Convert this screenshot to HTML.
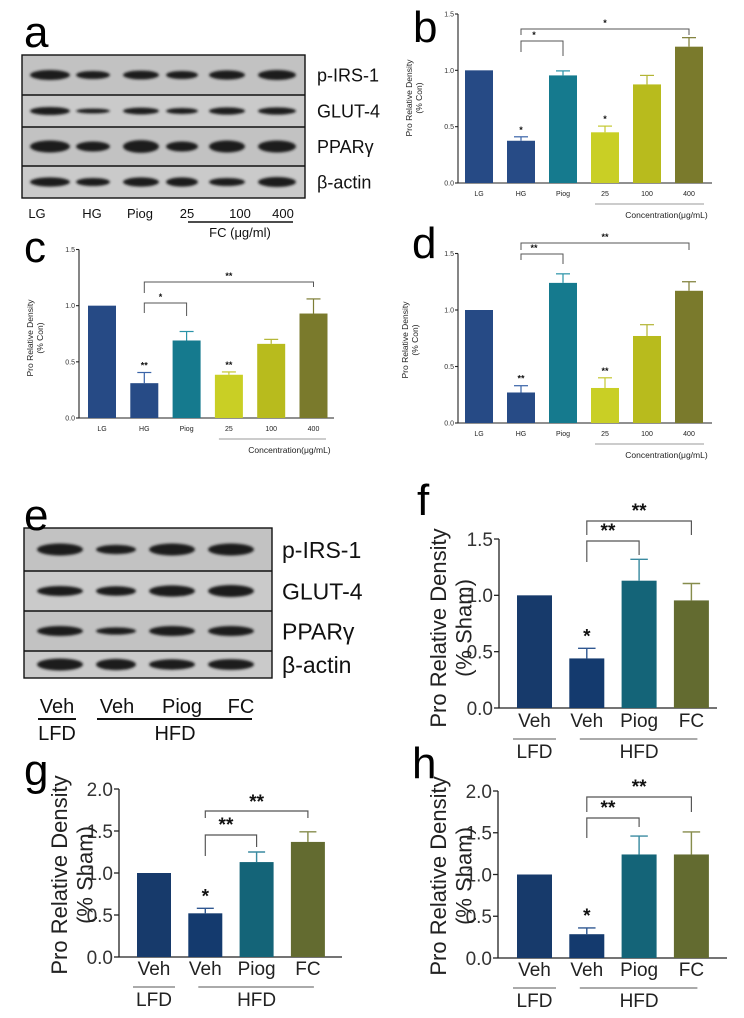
<!DOCTYPE html>
<html><head><meta charset="utf-8">
<style>
html,body{margin:0;padding:0;background:#fff;}
svg{display:block;font-family:"Liberation Sans",sans-serif;}
</style></head>
<body>
<svg id="fig" width="744" height="1018" viewBox="0 0 744 1018" xmlns="http://www.w3.org/2000/svg">
<defs>
<filter id="blur" x="-20%" y="-60%" width="140%" height="220%"><feGaussianBlur stdDeviation="1.4"/></filter>
</defs>
<g id="root"></g>
</svg>
<script>
// ---- data ----
const catsBCD = ['LG','HG','Piog','25','100','400'];
const valsB = [1.0, 0.375, 0.955, 0.45, 0.875, 1.21];
const errB  = [0, 0.035, 0.04, 0.055, 0.08, 0.08];
const starsB = ['', '*', '', '*', '', ''];
const valsC = [1.0, 0.31, 0.69, 0.385, 0.66, 0.93];
const errC  = [0, 0.095, 0.08, 0.025, 0.04, 0.13];
const starsC = ['', '**', '', '**', '', ''];
const valsD = [1.0, 0.27, 1.24, 0.31, 0.77, 1.17];
const errD  = [0, 0.06, 0.08, 0.09, 0.1, 0.08];
const starsD = ['', '**', '', '**', '', ''];
const ticksBCD = [0, 0.5, 1.0, 1.5];
const tickLabelsBCD = ['0.0','0.5','1.0','1.5'];

const catsFGH = ['Veh','Veh','Piog','FC'];
const valsF = [1.0, 0.44, 1.13, 0.955];
const errF  = [0, 0.09, 0.19, 0.15];
const valsG = [1.0, 0.52, 1.13, 1.37];
const errG  = [0, 0.06, 0.12, 0.12];
const valsH = [1.0, 0.285, 1.24, 1.24];
const errH  = [0, 0.075, 0.22, 0.27];
const starsFGH = ['', '*', '', ''];
const ticksF = [0, 0.5, 1.0, 1.5];
const tickLabelsF = ['0.0','0.5','1.0','1.5'];
const ticksGH = [0, 0.5, 1.0, 1.5, 2.0];
const tickLabelsGH = ['0.0','0.5','1.0','1.5','2.0'];

const colorsBCD = ['#264a85','#274b86','#157a8e','#c9cf25','#b8bb1d','#7a7a2c'];
const errColBCD = ['#264a85','#3a64a8','#2a93a8','#c4c832','#b3b534','#7d7d35'];
const colorsFGH = ['#173a6b','#143a6e','#146478','#636b30'];
const errColFGH = ['#173a6b','#2f5790','#3a8aa0','#868c4c'];

const NS='http://www.w3.org/2000/svg';
const root=document.getElementById('root');
function el(tag,attrs,parent,text){
  const e=document.createElementNS(NS,tag);
  for(const k in attrs) e.setAttribute(k,attrs[k]);
  if(text!==undefined) e.textContent=text;
  (parent||root).appendChild(e);
  return e;
}

function chart(c){
  const g=el('g',{});
  
  
  const max=c.ticks[c.ticks.length-1];
  const y=v=>c.y0-(v/max)*(c.y0-c.yTop);
  const xL=i=>c.firstLeft+i*c.sp;
  const xC=i=>xL(i)+c.w/2;
  const ya=el('line',{x1:c.axisX,y1:c.yTop,x2:c.axisX,y2:c.y0,stroke:'#222','stroke-width':c.lw},g);
  
  
  const xa=el('line',{x1:c.axisX,y1:c.y0,x2:c.end,y2:c.y0,stroke:'#222','stroke-width':c.lw},g);
  
  
  c.ticks.forEach((t,i)=>{
    el('line',{x1:c.axisX-c.tickLen,y1:y(t),x2:c.axisX,y2:y(t),stroke:'#222','stroke-width':c.lw},g);
    const tl=el('text',{x:c.axisX-c.tickLen-1,y:y(t)+c.tickFs*0.36,'font-size':c.tickFs,'text-anchor':'end',fill:'#333'},g,c.tickLabels[i]);
    
    
  });
  c.vals.forEach((v,i)=>{
    const b=el('rect',{x:xL(i),y:y(v),width:c.w,height:c.y0-y(v),fill:c.colors[i]},g);
    
    
    if(c.err[i]>0){
      const top=y(v+c.err[i]);
      el('line',{x1:xC(i),y1:y(v),x2:xC(i),y2:top,stroke:c.errCols[i],'stroke-width':c.lw*1.1},g);
      const cap=el('line',{x1:xC(i)-c.w*0.25,y1:top,x2:xC(i)+c.w*0.25,y2:top,stroke:c.errCols[i],'stroke-width':c.lw*1.1},g);
      
      
    }
    if(c.stars[i]){
      const s=el('text',{x:xC(i),y:y(v+c.err[i])-c.starGap,'font-size':c.starFs,'text-anchor':'middle',fill:'#111','font-weight':'bold'},g,c.stars[i]);
      
      
    }
    const cl=el('text',{x:xC(i),y:c.catY,'font-size':c.catFs,'text-anchor':'middle',fill:'#222'},g,c.cats[i]);
    
    
  });
  c.brackets.forEach(br=>{
    const x1=xC(br.from), x2=xC(br.to);
    const p=el('path',{d:`M${x1},${br.yl} L${x1},${br.y} L${x2},${br.y} L${x2},${br.yr}`,fill:'none',stroke:'#555','stroke-width':c.lw*0.9},g);
    
    
    const t=el('text',{x:(x1+x2)/2+(br.dx||0),y:br.ty,'font-size':c.starFs,'text-anchor':'middle',fill:'#111','font-weight':'bold'},g,br.label);
    
    
  });
  const tt=el('text',{transform:`translate(${c.titleX},${c.titleY}) rotate(-90)`,'font-size':c.titleFs,'text-anchor':'middle',fill:'#222'},g,'Pro Relative Density');
  
  
  const t2=el('text',{transform:`translate(${c.titleX+c.titleFs*1.15},${c.titleY}) rotate(-90)`,'font-size':c.titleFs,'text-anchor':'middle',fill:'#222'},g,c.unit);
  
  
  if(c.group==='conc'){
    el('line',{x1:xC(3)-10,y1:c.catY+8,x2:c.end-8,y2:c.catY+8,stroke:'#777','stroke-width':0.8},g);
    const ct=el('text',{x:(xC(3)+c.end)/2+8,y:c.catY+22,'font-size':8.5,'text-anchor':'middle',fill:'#222'},g,'Concentration(μg/mL)');
    
    
  } else {
    const ly=c.catY+12;
    el('line',{x1:xL(0)-4,y1:ly,x2:xL(0)+c.w+4,y2:ly,stroke:'#555','stroke-width':1},g);
    el('line',{x1:xC(1)-7,y1:ly,x2:xC(3)+6,y2:ly,stroke:'#555','stroke-width':1},g);
    const l1=el('text',{x:xC(0),y:ly+19,'font-size':19,'text-anchor':'middle',fill:'#222'},g,'LFD');
    
    
    const l2=el('text',{x:(xC(1)+xC(3))/2,y:ly+19,'font-size':19,'text-anchor':'middle',fill:'#222'},g,'HFD');
    
    
  }
}

const small={cats:catsBCD,ticks:ticksBCD,tickLabels:tickLabelsBCD,colors:colorsBCD,errCols:errColBCD,
  w:28,lw:1.1,tickLen:3,tickFs:7,catFs:7,starFs:9,starGap:4,titleFs:8.5,unit:'(% Con)',group:'conc'};
chart(Object.assign({},small,{name:'chart-b',vals:valsB,err:errB,stars:starsB,axisX:458,y0:183,yTop:14,firstLeft:465,sp:42,end:712,catY:196,titleX:412,titleY:98,
  brackets:[{from:1,to:5,y:29,yl:35,yr:35,ty:26,label:'*'},{from:1,to:2,y:41,yl:52,yr:56,ty:38,label:'*',dx:-8}]}));
chart(Object.assign({},small,{name:'chart-c',vals:valsC,err:errC,stars:starsC,axisX:79,y0:418,yTop:249.5,firstLeft:88,sp:42.3,end:334,catY:431,titleX:33,titleY:338,
  brackets:[{from:1,to:5,y:282,yl:293,yr:287,ty:279,label:'**'},{from:1,to:2,y:303,yl:313,yr:316,ty:300,label:'*',dx:-5}]}));
chart(Object.assign({},small,{name:'chart-d',vals:valsD,err:errD,stars:starsD,axisX:458,y0:423,yTop:253.5,firstLeft:465,sp:42,end:712,catY:436,titleX:408,titleY:340,
  brackets:[{from:1,to:5,y:243,yl:250,yr:250,ty:240,label:'**'},{from:1,to:2,y:254,yl:260,yr:264,ty:251,label:'**',dx:-8}]}));

const big={cats:catsFGH,colors:colorsFGH,errCols:errColFGH,lw:1.3,tickLen:5,tickFs:19,catFs:19,starFs:19,starGap:6,titleFs:22,unit:'(% Sham)',group:'diet'};
chart(Object.assign({},big,{name:'chart-f',vals:valsF,err:errF,stars:starsFGH,ticks:ticksF,tickLabels:tickLabelsF,axisX:499,y0:708,yTop:539,firstLeft:517,sp:52.3,w:35,end:717,catY:727,titleX:446,titleY:628,
  brackets:[{from:1,to:3,y:521,yl:535,yr:535,ty:517,label:'**'},{from:1,to:2,y:541,yl:562,yr:555,ty:537,label:'**',dx:-5}]}));
chart(Object.assign({},big,{name:'chart-g',vals:valsG,err:errG,stars:starsFGH,ticks:ticksGH,tickLabels:tickLabelsGH,axisX:119,y0:957,yTop:789,firstLeft:137,sp:51.3,w:34,end:342,catY:975,titleX:67,titleY:875,
  brackets:[{from:1,to:3,y:811,yl:818,yr:818,ty:808,label:'**'},{from:1,to:2,y:835,yl:856,yr:847,ty:831,label:'**',dx:-5}]}));
chart(Object.assign({},big,{name:'chart-h',vals:valsH,err:errH,stars:starsFGH,ticks:ticksGH,tickLabels:tickLabelsGH,axisX:498,y0:958,yTop:791,firstLeft:517,sp:52.3,w:35,end:727,catY:976,titleX:446,titleY:876,
  brackets:[{from:1,to:3,y:797,yl:812,yr:812,ty:793,label:'**'},{from:1,to:2,y:818,yl:838,yr:827,ty:814,label:'**',dx:-5}]}));

// ---- blots ----
function blot(name,x,w,rowsY,lanes,widths,thick,labels,labelX,labelFs){
  const g=el('g',{});
  
  
  for(let r=0;r<rowsY.length-1;r++){
    el('rect',{x:x,y:rowsY[r],width:w,height:rowsY[r+1]-rowsY[r],fill:r%2?'#cacaca':'#c2c2c2'},g);
    const cy=(rowsY[r]+rowsY[r+1])/2;
    lanes.forEach((lx,i)=>{
      const b=el('ellipse',{cx:lx,cy:cy,rx:widths[i],ry:thick[r][i],fill:'#1a1a1a',filter:'url(#blur)'},g);
      
      
    });
    const lt=el('text',{x:labelX,y:cy+labelFs*0.36,'font-size':labelFs,fill:'#111'},g,labels[r]);
    
    
  }
  el('rect',{x:x,y:rowsY[0],width:w,height:rowsY[rowsY.length-1]-rowsY[0],fill:'none',stroke:'#111','stroke-width':1.4},g);
  for(let r=1;r<rowsY.length-1;r++) el('line',{x1:x,y1:rowsY[r],x2:x+w,y2:rowsY[r],stroke:'#111','stroke-width':1.4},g);
}
blot('western-blot-a',22,283,[55,95,127,166,198],[50,93,141,182,227,277],[20,17,18,16,18,19],
  [[5,4,4.4,4,4.6,5],[4,2.4,3.4,3,3.6,3.6],[6,5,6.4,5,6,6],[4.6,4,4.6,4.6,4,5]],
  ['p-IRS-1','GLUT-4','PPARγ','β-actin'],317,18);
blot('western-blot-e',24,248,[528,571,611,651,678],[60,116,172,231],[23,20,23,23],
  [[6,4.6,6,6],[5,4.8,5.6,6],[5,3.6,5,5],[6,5.6,5.2,5.4]],
  ['p-IRS-1','GLUT-4','PPARγ','β-actin'],282,23);

const laneA=['LG','HG','Piog','25','100','400'];
const laneAX=[37,92,140,187,240,283];
laneA.forEach((t,i)=>{
  const l=el('text',{x:laneAX[i],y:218,'font-size':13,'text-anchor':'middle',fill:'#111'},root,t);
  
  
});
el('line',{x1:188,y1:222,x2:293,y2:222,stroke:'#111','stroke-width':1.6});
const fc=el('text',{x:240,y:237,'font-size':13,'text-anchor':'middle',fill:'#111'},root,'FC (μg/ml)');



const laneE=['Veh','Veh','Piog','FC'];
const laneEX=[57,117,182,241];
laneE.forEach((t,i)=>{
  const l=el('text',{x:laneEX[i],y:713,'font-size':20,'text-anchor':'middle',fill:'#111'},root,t);
  
  
});
el('line',{x1:38,y1:719,x2:76,y2:719,stroke:'#111','stroke-width':2});
el('line',{x1:97,y1:719,x2:252,y2:719,stroke:'#111','stroke-width':2});
const lf=el('text',{x:57,y:740,'font-size':20,'text-anchor':'middle',fill:'#111'},root,'LFD');


const hf=el('text',{x:175,y:740,'font-size':20,'text-anchor':'middle',fill:'#111'},root,'HFD');



const letters=['a','b','c','d','e','f','g','h'];
const letterX=[24,413,24,412,24,417,24,412];
const letterY=[47,42,262,258,530,515,785,778];
letters.forEach((t,i)=>{
  const l=el('text',{x:letterX[i],y:letterY[i],'font-size':44,fill:'#000'},root,t);
  
  
});
</script>
</body></html>
